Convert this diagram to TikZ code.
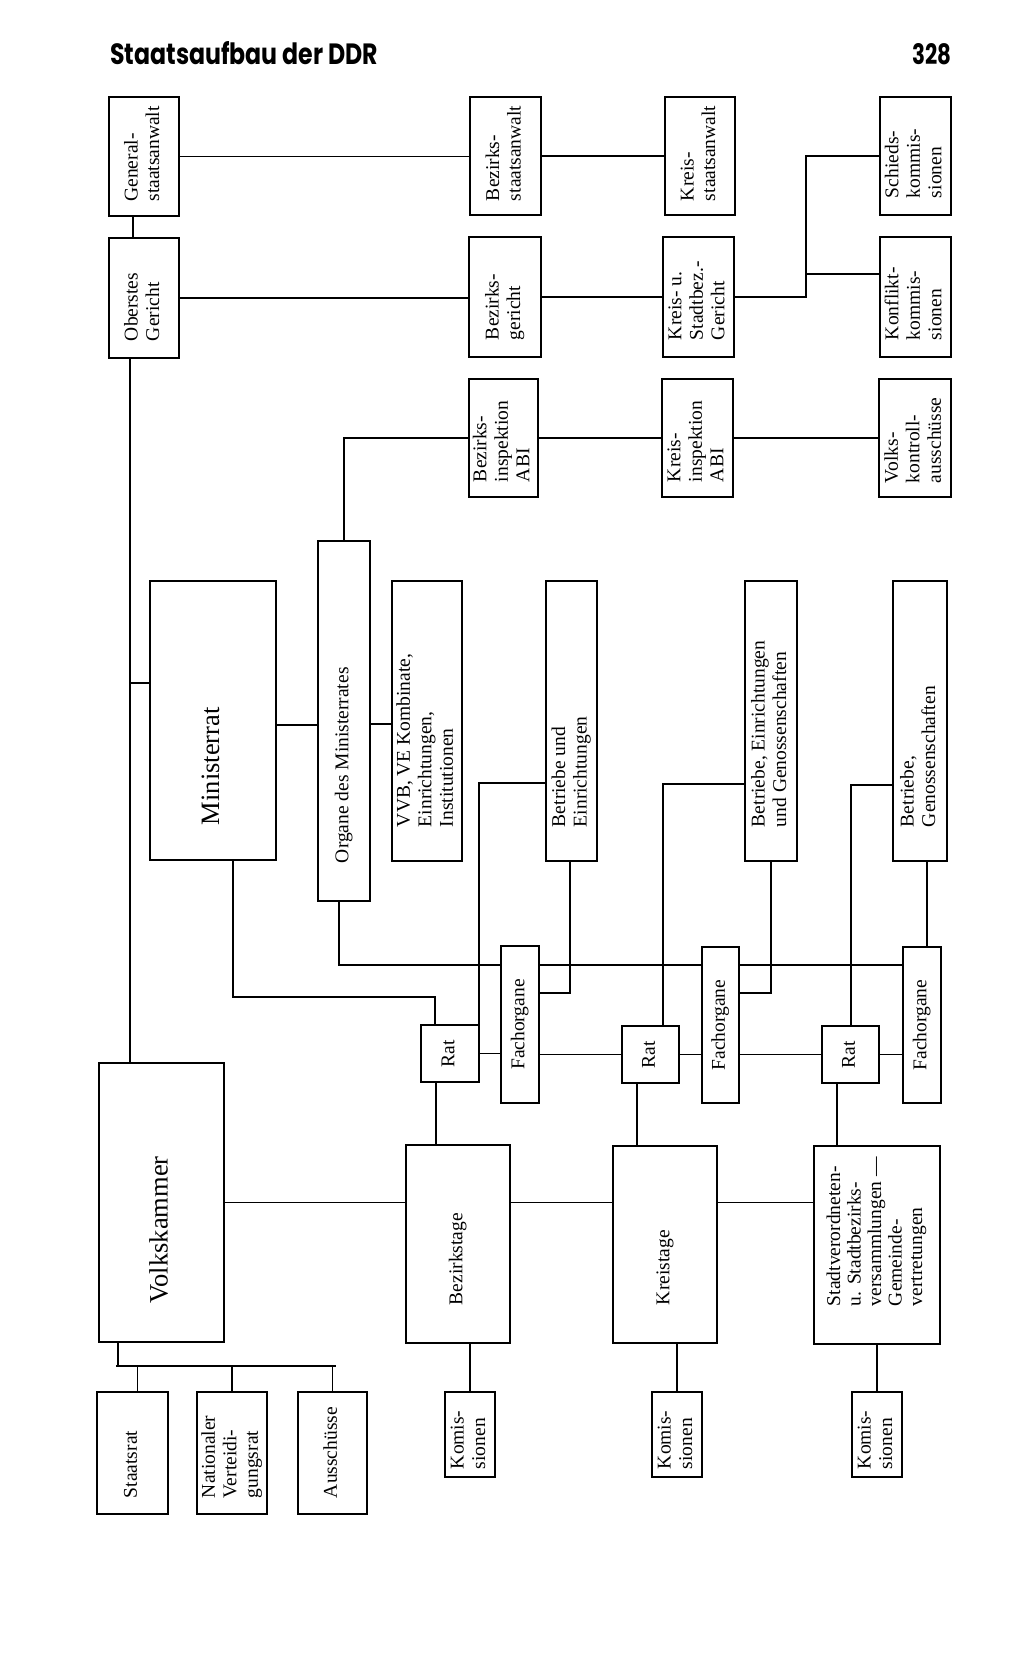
\documentclass[tikz,border=0pt]{standalone}
\usepackage{fontspec}
\setmainfont{Liberation Serif}
\newfontfamily\headfont{Poppins}
\usepackage{graphicx}
\newcommand{\rt}[2]{\rotatebox{90}{\makebox[#1][l]{\begin{tabular}{@{}l@{}}#2\end{tabular}}}}
\newcommand{\rc}[1]{\rotatebox{90}{\begin{tabular}{@{}l@{}}#1\end{tabular}}}
\begin{document}
\begin{tikzpicture}[x=1pt,y=-1pt,
  box/.style={draw, line width=1.9pt, inner sep=0pt, outer sep=0pt, font=\fontsize{19.5}{21.5}\selectfont},
  bigbox/.style={box, font=\fontsize{26.5}{30}\selectfont},
  link/.style={line width=1.7pt}]
\useasboundingbox (0,0) rectangle (1024,1665);
\fill[white] (0,0) rectangle (1024,1665);

% header
\node[anchor=base west, inner sep=0pt] (title) at (110,64) {\resizebox{268pt}{23pt}{\headfont\bfseries Staatsaufbau der DDR}};
\node[anchor=base east, inner sep=0pt] (page) at (952,64) {\resizebox{39pt}{21pt}{\headfont\bfseries 328}};

% top rows
\node[box, minimum width=70pt, minimum height=119pt] (GS) at (144,156.5) {\rt{90pt}{General-\\staatsanwalt}};
\node[box, minimum width=70pt, minimum height=120pt] (OG) at (144,298) {\rt{86pt}{Oberstes\\Gericht}};
\node[box, minimum width=71pt, minimum height=118pt] (BS) at (505.5,156) {\rt{90pt}{Bezirks-\\staatsanwalt}};
\node[box, minimum width=72pt, minimum height=120pt] (BG) at (505,297) {\rt{86pt}{Bezirks-\\gericht}};
\node[box, minimum width=69pt, minimum height=118pt] (BI) at (503.5,438) {\rt{88pt}{Bezirks-\\inspektion\\ABI}};
\node[box, minimum width=70pt, minimum height=118pt] (KS) at (700,156) {\rt{90pt}{Kreis-\\staatsanwalt}};
\node[box, minimum width=71pt, minimum height=120pt] (KG) at (698.5,297) {\rt{86pt}{Kreis- u.\\Stadtbez.-\\Gericht}};
\node[box, minimum width=71pt, minimum height=118pt] (KI) at (697.5,438) {\rt{88pt}{Kreis-\\inspektion\\ABI}};
\node[box, minimum width=71pt, minimum height=118pt] (SK) at (915.5,156) {\rt{84pt}{Schieds-\\kommis-\\sionen}};
\node[box, minimum width=71pt, minimum height=120pt] (KK) at (915.5,297) {\rt{86pt}{Konflikt-\\kommis-\\sionen}};
\node[box, minimum width=72pt, minimum height=118pt] (VK) at (915,438) {\rt{90pt}{Volks-\\kontroll-\\ausschüsse}};

% middle
\node[bigbox, minimum width=126pt, minimum height=279pt] (MR) at (213,720.5) {\rt{209pt}{Ministerrat}};
\node[box, minimum width=52pt, minimum height=360pt] (OM) at (344,721) {\rt{284pt}{Organe des Ministerrates}};
\node[box, minimum width=70pt, minimum height=280pt] (VVB) at (427,721) {\rt{212pt}{VVB, VE Kombinate,\\Einrichtungen,\\Institutionen}};
\node[box, minimum width=51pt, minimum height=280pt] (BE) at (571.5,721) {\rt{212pt}{Betriebe und\\Einrichtungen}};
\node[box, minimum width=52pt, minimum height=280pt] (BEG) at (771,721) {\rt{212pt}{Betriebe, Einrichtungen\\und Genossenschaften}};
\node[box, minimum width=54pt, minimum height=280pt] (BGn) at (920,721) {\rt{212pt}{Betriebe,\\Genossenschaften}};

% Rat / Fachorgane
\node[box, minimum width=58pt, minimum height=57pt] (Rat1) at (450,1053.5) {\rc{Rat}};
\node[box, minimum width=57pt, minimum height=57pt] (Rat2) at (650.5,1054.5) {\rc{Rat}};
\node[box, minimum width=57pt, minimum height=57pt] (Rat3) at (850.5,1054.5) {\rc{Rat}};
\node[box, minimum width=38pt, minimum height=157pt] (F1) at (520,1024.5) {\rc{Fachorgane}};
\node[box, minimum width=37pt, minimum height=156pt] (F2) at (720.5,1025) {\rc{Fachorgane}};
\node[box, minimum width=38pt, minimum height=156pt] (F3) at (922,1025) {\rc{Fachorgane}};

% lower
\node[bigbox, minimum width=125pt, minimum height=279pt] (VKa) at (161.5,1202.5) {\rt{201pt}{Volkskammer}};
\node[box, minimum width=104pt, minimum height=198pt] (BT) at (458,1244) {\rt{122pt}{Bezirkstage}};
\node[box, minimum width=104pt, minimum height=197pt] (KT) at (665,1244.5) {\rt{121pt}{Kreistage}};
\node[box, minimum width=126pt, minimum height=198pt, font=\fontsize{19.5}{20.5}\selectfont] (SV) at (877,1245) {\rt{122pt}{Stadtverordneten-\\u. Stadtbezirks-\\versammlungen —\\Gemeinde-\\vertretungen}};

% bottom
\node[box, minimum width=71pt, minimum height=122pt] (SR) at (132.5,1453) {\rt{90pt}{Staatsrat}};
\node[box, minimum width=70pt, minimum height=122pt] (NV) at (232,1453) {\rt{90pt}{Nationaler\\Verteidi-\\gungsrat}};
\node[box, minimum width=69pt, minimum height=122pt] (AU) at (332.5,1453) {\rt{90pt}{Ausschüsse}};
\node[box, minimum width=50pt, minimum height=85pt] (K1) at (470,1434.5) {\rt{69pt}{Komis-\\sionen}};
\node[box, minimum width=50pt, minimum height=85pt] (K2) at (677,1434.5) {\rt{69pt}{Komis-\\sionen}};
\node[box, minimum width=50pt, minimum height=85pt] (K3) at (877,1434.5) {\rt{69pt}{Komis-\\sionen}};

% connectors top
\draw[link] ([xshift=-11pt]GS.south) -- ([xshift=-11pt]GS.south |- OG.north);
\coordinate (ogv) at (130,683);
\draw[link] (OG.south -| ogv) -- (ogv |- VKa.north);
\draw[link] (ogv) -- (ogv -| MR.west);
\draw[link] (GS.east) -- (GS.east -| BS.west);
\draw[link] (OG.east) -- (OG.east -| BG.west);
\draw[link] (BS.east) -- (BS.east -| KS.west);
\draw[link] (BG.east) -- (BG.east -| KG.west);
\coordinate (kj) at (806,156);
\draw[link] (KG.east) -| (kj) -- (kj -| SK.west);
\draw[link] ([yshift=23pt]KK.west -| kj) -- ([yshift=23pt]KK.west);
\draw[link] (BI.west) -| (OM.north);
\draw[link] (BI.east) -- (BI.east -| KI.west);
\draw[link] (KI.east) -- (KI.east -| VK.west);
\draw[link] ([yshift=-4.5pt]MR.east) -- ([yshift=-4.5pt]MR.east -| OM.west);
\draw[link] ([yshift=-3pt]OM.east) -- ([yshift=-3pt]OM.east -| VVB.west);

% connectors middle
\coordinate (mr1) at (233,997);
\draw[link] (MR.south -| mr1) -- (mr1) -| ([xshift=-15pt]Rat1.north);
\coordinate (om1) at (339,965);
\draw[link] (OM.south -| om1) -- (om1) -- (om1 -| F1.west);
\draw[link] (F1.east |- om1) -- (F2.west |- om1);
\draw[link] (F2.east |- om1) -- (F3.west |- om1);
\coordinate (be1) at (479,783);
\draw[link] (BE.west |- be1) -- (be1) -- (be1 |- Rat1.north);
\coordinate (be2) at (570,993);
\draw[link] (BE.south -| be2) -- (be2) -- (be2 -| F1.east);
\coordinate (beg1) at (663,784);
\draw[link] (BEG.west |- beg1) -- (beg1) -- (beg1 |- Rat2.north);
\coordinate (beg2) at (771,993);
\draw[link] (BEG.south -| beg2) -- (beg2) -- (beg2 -| F2.east);
\coordinate (bg1) at (851,785);
\draw[link] (BGn.west |- bg1) -- (bg1) -- (bg1 |- Rat3.north);
\draw[link] ([xshift=7pt]BGn.south) -- ([xshift=7pt]BGn.south |- F3.north);

% Rat - Fachorgane
\draw[link] (Rat1.east) -- (Rat1.east -| F1.west);
\draw[link] (F1.east |- Rat2.west) -- (Rat2.west);
\draw[link] (Rat2.east) -- (Rat2.east -| F2.west);
\draw[link] (F2.east |- Rat3.west) -- (Rat3.west);
\draw[link] (Rat3.east) -- (Rat3.east -| F3.west);

% Rat - Tage
\draw[link] ([xshift=-14pt]Rat1.south) -- ([xshift=-14pt]Rat1.south |- BT.north);
\draw[link] ([xshift=-13.5pt]Rat2.south) -- ([xshift=-13.5pt]Rat2.south |- KT.north);
\draw[link] ([xshift=-13.5pt]Rat3.south) -- ([xshift=-13.5pt]Rat3.south |- SV.north);

% Volkskammer - Tage
\draw[link] (VKa.east) -- (VKa.east -| BT.west);
\draw[link] (BT.east |- VKa.east) -- (KT.west |- VKa.east);
\draw[link] (KT.east |- VKa.east) -- (SV.west |- VKa.east);

% bottom links
\coordinate (vj) at (118,1366);
\draw[link] (VKa.south -| vj) -- (vj);
\draw[link] ([xshift=-2pt]vj) -- ([xshift=3pt]vj -| AU.north);
\draw[link] ([xshift=5pt]SR.north |- vj) -- ([xshift=5pt]SR.north);
\draw[link] (NV.north |- vj) -- (NV.north);
\draw[link] (AU.north |- vj) -- (AU.north);
\draw[link] (BT.south -| K1.north) -- (K1.north);
\draw[link] (KT.south -| K2.north) -- (K2.north);
\draw[link] (SV.south -| K3.north) -- (K3.north);
\end{tikzpicture}
\end{document}
